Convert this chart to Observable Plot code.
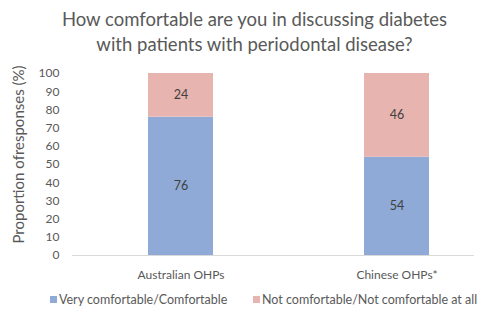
<!DOCTYPE html>
<html>
<head>
<meta charset="utf-8">
<script src="https://cdn.jsdelivr.net/npm/d3@7"></script>
<script src="https://cdn.jsdelivr.net/npm/@observablehq/plot@0.6"></script>
<style>
  html, body { margin: 0; padding: 0; background: #fff; }
  body { width: 483px; height: 313px; overflow: hidden; font-family: Lato, "Open Sans", sans-serif; color: #595959; }
  #title { height: 60px; box-sizing: border-box; padding-top: 7px; text-align: center; font-size: 18.5px; line-height: 25px; color: #595959; padding-left: 26px; }
  #legend { height: 28px; display: flex; align-items: center; font-size: 12.5px; color: #595959; }
  .sw { display: inline-block; width: 7px; height: 7px; margin-right: 2px; }
</style>
</head>
<body>
<div id="title">How comfortable are you in discussing diabetes<br>with patients with periodontal disease?</div>
<div id="chart"></div>
<div id="legend"></div>
<script>
const groups = ["Australian OHPs", "Chinese OHPs*"];
const seriesNames = ["Very comfortable/Comfortable", "Not comfortable/Not comfortable at all"];
const comfortable = [76, 54];
const notComfortable = [24, 46];
const colors = ["#8faad6", "#e8b4af"];
const yTicks = [0, 10, 20, 30, 40, 50, 60, 70, 80, 90, 100];

const data = [];
groups.forEach((g, i) => {
  data.push({group: g, series: seriesNames[0], value: comfortable[i]});
  data.push({group: g, series: seriesNames[1], value: notComfortable[i]});
});

const chart = Plot.plot({
  width: 483,
  height: 225,
  marginLeft: 72,
  marginRight: 9,
  marginTop: 13,
  marginBottom: 30,
  style: {fontFamily: "Lato, 'Open Sans', sans-serif", fontSize: "12px", color: "#595959", background: "#fff"},
  x: {domain: groups, range: [72.5, 504.5], paddingInner: 0.7, paddingOuter: 0.35, label: null},
  y: {domain: [0, 100], label: null},
  color: {domain: seriesNames, range: colors},
  marks: [
    Plot.barY(data, Plot.stackY({x: "group", y: "value", fill: "series", order: seriesNames})),
    Plot.text(data, Plot.stackY({x: "group", y: "value", z: "series", order: seriesNames, text: d => String(d.value), fill: "#404040", fontSize: 12.5})),
    Plot.ruleY([0], {stroke: "#d9d9d9", strokeWidth: 1}),
    Plot.axisY(yTicks, {tickSize: 0, tickPadding: 13, fontSize: 12, label: "Proportion ofresponses (%)", labelAnchor: "center", labelArrow: "none", labelOffset: 59}),
    Plot.axisX({tickSize: 0, tickPadding: 15, fontSize: 12, label: null})
  ]
});
d3.select(chart).selectAll("[aria-label='y-axis label']").each(function() {
  const g = d3.select(this);
  const t = g.attr("transform") || "";
  g.attr("transform", (t + " translate(0,-10)").trim());
  g.selectAll("text").style("font-size", "15px");
});
document.getElementById("chart").appendChild(chart);

const legend = document.getElementById("legend");
const positions = [50, 253];
seriesNames.forEach((s, i) => {
  const item = document.createElement("span");
  item.style.position = "absolute";
  item.style.left = positions[i] + "px";
  item.style.display = "flex";
  item.style.alignItems = "center";
  const sw = document.createElement("span");
  sw.className = "sw";
  sw.style.background = colors[i];
  item.appendChild(sw);
  item.appendChild(document.createTextNode(s));
  legend.appendChild(item);
});
</script>
</body>
</html>
